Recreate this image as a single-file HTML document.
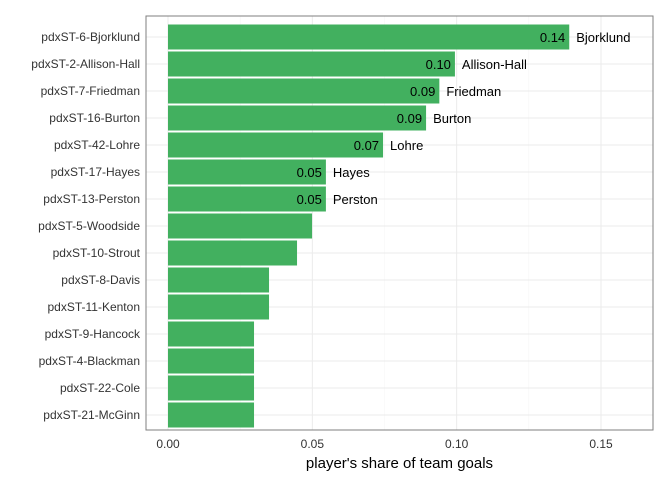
<!DOCTYPE html>
<html><head><meta charset="utf-8"><style>
body{margin:0;background:#fff;font-family:"Liberation Sans",sans-serif;}
</style></head><body>
<svg id="c" width="672" height="480" xmlns="http://www.w3.org/2000/svg"></svg>
<script>
const players=["pdxST-6-Bjorklund","pdxST-2-Allison-Hall","pdxST-7-Friedman","pdxST-16-Burton","pdxST-42-Lohre","pdxST-17-Hayes","pdxST-13-Perston","pdxST-5-Woodside","pdxST-10-Strout","pdxST-8-Davis","pdxST-11-Kenton","pdxST-9-Hancock","pdxST-4-Blackman","pdxST-22-Cole","pdxST-21-McGinn"];
const shares=[0.139,0.0994,0.094,0.0894,0.0745,0.0547,0.0547,0.0499,0.0447,0.035,0.035,0.0298,0.0298,0.0298,0.0298];
const valueLabels=["0.14","0.10","0.09","0.09","0.07","0.05","0.05",null,null,null,null,null,null,null,null];
const nameLabels=["Bjorklund","Allison-Hall","Friedman","Burton","Lohre","Hayes","Perston",null,null,null,null,null,null,null,null];
const ticks=[0,0.05,0.10,0.15];
const tickLabels=["0.00","0.05","0.10","0.15"];
const svg=document.getElementById('c');const NS="http://www.w3.org/2000/svg";
const L=146,R=653,T=16,B=430;
const x=v=>168+v*(601-168)/0.15;
const yc=i=>37+i*27;
function mk(t,a,p){const e=document.createElementNS(NS,t);for(const k in a)e.setAttribute(k,a[k]);(p||svg).appendChild(e);return e;}
let g;
// grid
for(let i=0;i<ticks.length;i++){
 g=mk('line',{x1:x(ticks[i]),x2:x(ticks[i]),y1:T,y2:B,stroke:'#ebebeb','stroke-width':1});
 
 
 if(i<ticks.length-1){const m=mk('line',{x1:x((ticks[i]+ticks[i+1])/2),x2:x((ticks[i]+ticks[i+1])/2),y1:T,y2:B,stroke:'#f4f4f4','stroke-width':0.5});
 
 }
}
players.forEach((p,i)=>{
 const l=mk('line',{x1:L,x2:R,y1:yc(i),y2:yc(i),stroke:'#ebebeb','stroke-width':1});
 
 
});
players.forEach((p,i)=>{
 const r=mk('rect',{x:x(0),y:yc(i)-12.5,width:x(shares[i])-x(0),height:25,fill:'#42b05f'});
 
 
 const t=mk('text',{x:140,y:yc(i)+4,'text-anchor':'end','font-size':12,fill:'#333'});t.textContent=p;
 
 
 if(valueLabels[i]){
  const v=mk('text',{x:x(shares[i])-4,y:yc(i)+5,'text-anchor':'end','font-size':13,fill:'#000'});v.textContent=valueLabels[i];
  
  
  const n=mk('text',{x:x(shares[i])+7,y:yc(i)+5,'font-size':13,fill:'#000'});n.textContent=nameLabels[i];
  
  
 }
});
g=mk('rect',{x:L,y:T,width:R-L,height:B-T,fill:'none',stroke:'#7f7f7f','stroke-width':1});


ticks.forEach((v,i)=>{
 const t=mk('text',{x:x(v),y:448,'text-anchor':'middle','font-size':12,fill:'#333'});t.textContent=tickLabels[i];
 
 
});
g=mk('text',{x:(L+R)/2,y:468,'text-anchor':'middle','font-size':15,fill:'#000'});g.textContent="player's share of team goals";


</script>
</body></html>
